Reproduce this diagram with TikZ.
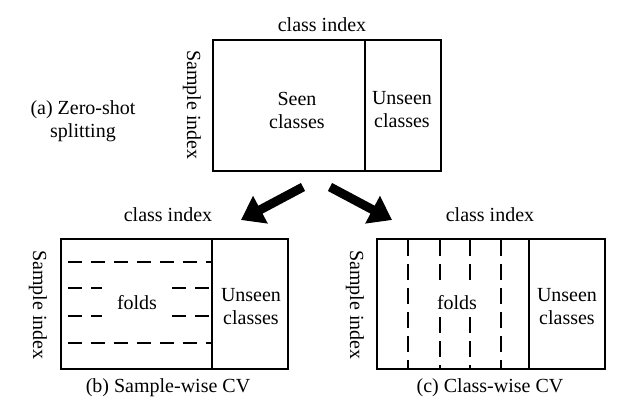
\documentclass[tikz,border=0pt]{standalone}
\usepackage{fontspec}
\setmainfont{Liberation Serif}
\usetikzlibrary{arrows.meta}
\begin{document}
\begin{tikzpicture}[x=1pt,y=-1pt,
    box/.style={draw, line width=1.6pt},
    fold/.style={line width=1.6pt, dash pattern=on 14pt off 9pt},
    vfold/.style={fold, dash pattern=on 16pt off 8pt},
    lbl/.style={font=\fontsize{20}{23}\selectfont, align=center, inner sep=0pt},
    split/.style={line width=9pt, -{Triangle[length=22pt,width=30pt]}}]
  \useasboundingbox (0,0) rectangle (619,412);
  % (a) zero-shot splitting
  \draw[box] (213,40) rectangle (441,171);
  \draw[box] (365,40) -- (365,171);
  \node[lbl] (ciA) at (322,25) {class index};
  \node[lbl, rotate=-90] (siA) at (192,105) {Sample index};
  \node[lbl] (capA) at (83,121) {(a) Zero-shot\\splitting};
  \node[lbl] (seenA) at (297,110) {Seen\\classes};
  \node[lbl] (unseenA) at (402,110) {Unseen\\classes};
  % arrows
  \coordinate (aL) at (303,187);
  \coordinate (bL) at (241,220);
  \coordinate (aR) at (330,187);
  \coordinate (bR) at (392,220);
  \draw[split] (aL) -- (bL);
  \draw[split] (aR) -- (bR);
  % (b) sample-wise CV
  \draw[box] (61,239) rectangle (288,369);
  \draw[box] (212,239) -- (212,369);
  \node[lbl] (ciB) at (168,215) {class index};
  \node[lbl, rotate=-90] (siB) at (38,305) {Sample index};
  \node[lbl] (foldsB) at (137,303) {folds};
  \node[lbl] (unseenB) at (251,307) {Unseen\\classes};
  \node[lbl] (capB) at (168,388) {(b) Sample-wise CV};
  \draw[fold] (68,262) -- (211,262);
  \draw[fold] (68,343) -- (211,343);
  \foreach \y in {288,316}{
    \draw[fold] (68,\y) -- (102,\y);
    \draw[fold] (172,\y) -- (211,\y);
  }
  % (c) class-wise CV
  \draw[box] (377,239) rectangle (605,369);
  \draw[box] (529,239) -- (529,369);
  \node[lbl] (ciC) at (490,215) {class index};
  \node[lbl, rotate=-90] (siC) at (355,305) {Sample index};
  \node[lbl] (foldsC) at (457,303) {folds};
  \node[lbl] (unseenC) at (567,307) {Unseen\\classes};
  \node[lbl] (capC) at (490,388) {(c) Class-wise CV};
  \foreach \x in {408,501}
    \draw[vfold] (\x,240) -- (\x,369);
  \foreach \x in {440,470}{
    \draw[vfold] (\x,240) -- (\x,282);
    \draw[vfold] (\x,317) -- (\x,369);
  }
\end{tikzpicture}
\end{document}
